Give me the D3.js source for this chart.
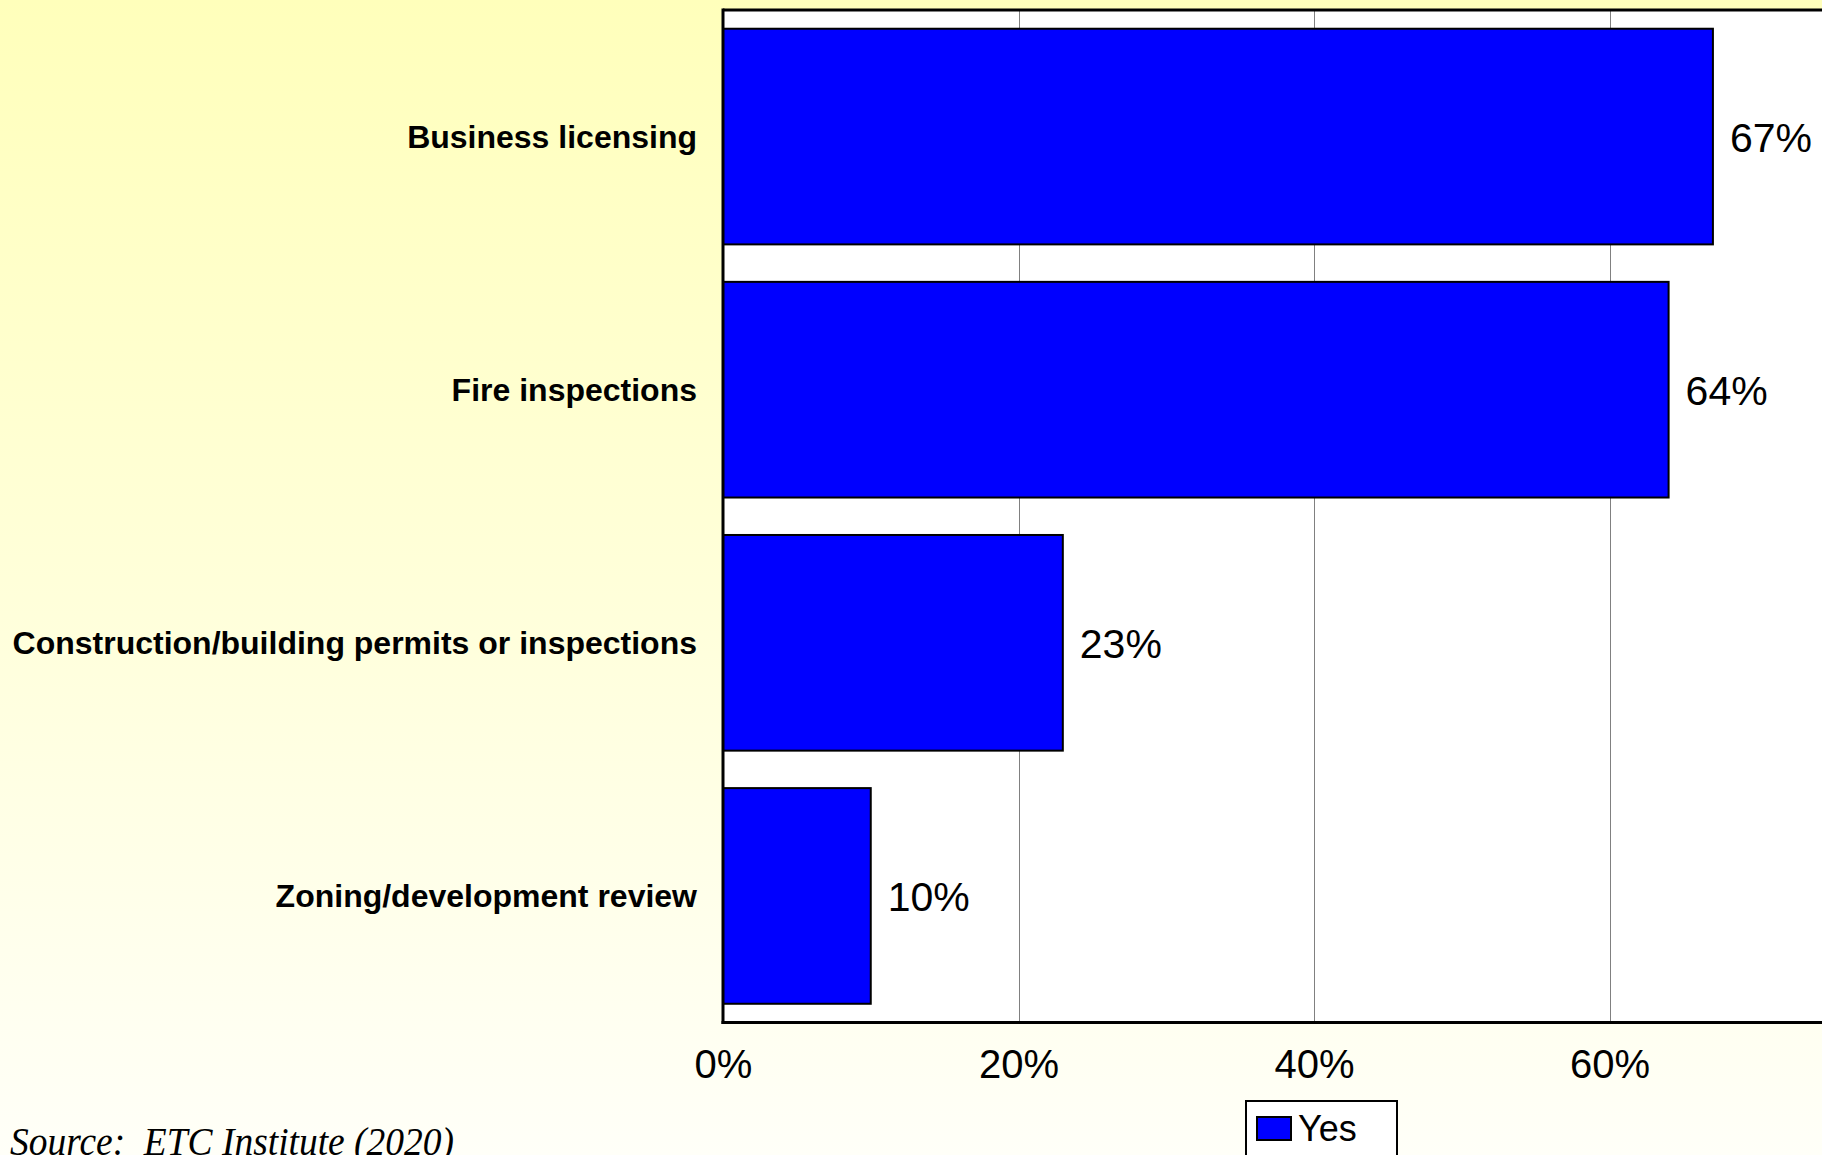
<!DOCTYPE html>
<html>
<head>
<meta charset="utf-8">
<script src="https://cdn.jsdelivr.net/npm/d3@7"></script>
<style>
  html, body { margin: 0; padding: 0; overflow: hidden; }
  svg { display: block; }
</style>
</head>
<body>
<svg id="chart" width="1822" height="1155"></svg>
<script>
// Services offered, share answering "Yes"
const categories = [
  "Business licensing",
  "Fire inspections",
  "Construction/building permits or inspections",
  "Zoning/development review"
];
const yesValues = [67, 64, 23, 10];
const tickValues = [0, 20, 40, 60];
const seriesName = "Yes";
const sourceNote = "Source:  ETC Institute (2020)";

const W = 1822, H = 1155;
// the value axis runs to 80%, past the right edge of the page
const plot = { left: 723, top: 10, bottom: 1022.5, right: 1905 };

const svg = d3.select("#chart");

// page background: soft yellow wash fading downward
const defs = svg.append("defs");
const grad = defs.append("linearGradient")
  .attr("id", "bg").attr("x1", 0).attr("y1", 0).attr("x2", 0).attr("y2", 1);
grad.append("stop").attr("offset", "0%").attr("stop-color", "#ffffbb");
grad.append("stop").attr("offset", "55%").attr("stop-color", "#ffffdc");
grad.append("stop").attr("offset", "100%").attr("stop-color", "#fffff8");
svg.append("rect").attr("width", W).attr("height", H).attr("fill", "url(#bg)");

const x = d3.scaleLinear().domain([0, 80]).range([plot.left, plot.right]);
const y = d3.scaleBand().domain(categories)
  .range([plot.top, plot.bottom])
  .paddingInner(0.148).paddingOuter(0.074);

// plot area
svg.append("rect")
  .attr("x", plot.left).attr("y", plot.top)
  .attr("width", plot.right - plot.left).attr("height", plot.bottom - plot.top)
  .attr("fill", "#ffffff");

// vertical gridlines
svg.append("g")
  .selectAll("line")
  .data(tickValues.filter(v => v > 0))
  .join("line")
  .attr("x1", d => Math.round(x(d)) + 0.5).attr("x2", d => Math.round(x(d)) + 0.5)
  .attr("y1", plot.top).attr("y2", plot.bottom)
  .attr("stroke", "#808080").attr("stroke-width", 1);

const rows = categories.map((c, i) => ({ c, v: yesValues[i] }));

// bars
svg.append("g")
  .selectAll("rect")
  .data(rows)
  .join("rect")
  .attr("x", x(0))
  .attr("y", d => y(d.c))
  .attr("width", d => x(d.v) - x(0))
  .attr("height", y.bandwidth())
  .attr("fill", "#0000ff")
  .attr("stroke", "#000000")
  .attr("stroke-width", 2);

// value labels
svg.append("g")
  .selectAll("text")
  .data(rows)
  .join("text")
  .attr("x", d => x(d.v) + 17)
  .attr("y", d => y(d.c) + y.bandwidth() / 2)
  .attr("dy", "0.37em")
  .attr("font-family", "Liberation Sans, Arial, sans-serif")
  .attr("font-size", 41)
  .attr("fill", "#000")
  .text(d => d.v + "%");

// plot frame: top border, left and bottom axes
svg.append("line")
  .attr("x1", plot.left).attr("x2", W).attr("y1", plot.top).attr("y2", plot.top)
  .attr("stroke", "#000").attr("stroke-width", 3);

const xAxis = svg.append("g")
  .attr("transform", `translate(0,${plot.bottom})`)
  .call(d3.axisBottom(x).tickValues(tickValues).tickSize(0).tickPadding(0)
    .tickFormat(d => d + "%"));
xAxis.select(".domain").attr("stroke", "#000").attr("stroke-width", 3)
  .attr("d", `M${plot.left - 1.5},0H${W}`);
xAxis.selectAll("text")
  .attr("y", 55)
  .attr("dy", 0)
  .attr("font-family", "Liberation Sans, Arial, sans-serif")
  .attr("font-size", 40)
  .attr("fill", "#000");

const yAxis = svg.append("g")
  .attr("transform", `translate(${plot.left},0)`)
  .call(d3.axisLeft(y).tickSize(0).tickPadding(26));
yAxis.select(".domain").attr("stroke", "#000").attr("stroke-width", 3)
  .attr("d", `M0,${plot.top - 1.5}V${plot.bottom + 1.5}`);
yAxis.selectAll("text")
  .attr("dy", "0.36em")
  .attr("font-family", "Liberation Sans, Arial, sans-serif")
  .attr("font-weight", "bold")
  .attr("font-size", 32)
  .attr("fill", "#000");

// legend
const legend = svg.append("g").attr("transform", "translate(1246,1101)");
legend.append("rect")
  .attr("x", 0).attr("y", 0).attr("width", 151).attr("height", 70)
  .attr("fill", "#fff").attr("stroke", "#000").attr("stroke-width", 2);
legend.append("rect")
  .attr("x", 11).attr("y", 16).attr("width", 34).attr("height", 23)
  .attr("fill", "#0000ff").attr("stroke", "#000").attr("stroke-width", 2);
legend.append("text")
  .attr("x", 52).attr("y", 40)
  .attr("font-family", "Liberation Sans, Arial, sans-serif")
  .attr("font-size", 36)
  .attr("fill", "#000")
  .text(seriesName);

// source note
svg.append("text")
  .attr("x", 10).attr("y", 1155)
  .attr("font-family", "Liberation Serif, Times New Roman, serif")
  .attr("font-style", "italic")
  .attr("font-size", 40)
  .attr("textLength", 444)
  .attr("lengthAdjust", "spacingAndGlyphs")
  .attr("fill", "#000")
  .attr("xml:space", "preserve")
  .style("white-space", "pre")
  .text(sourceNote);
</script>
</body>
</html>
